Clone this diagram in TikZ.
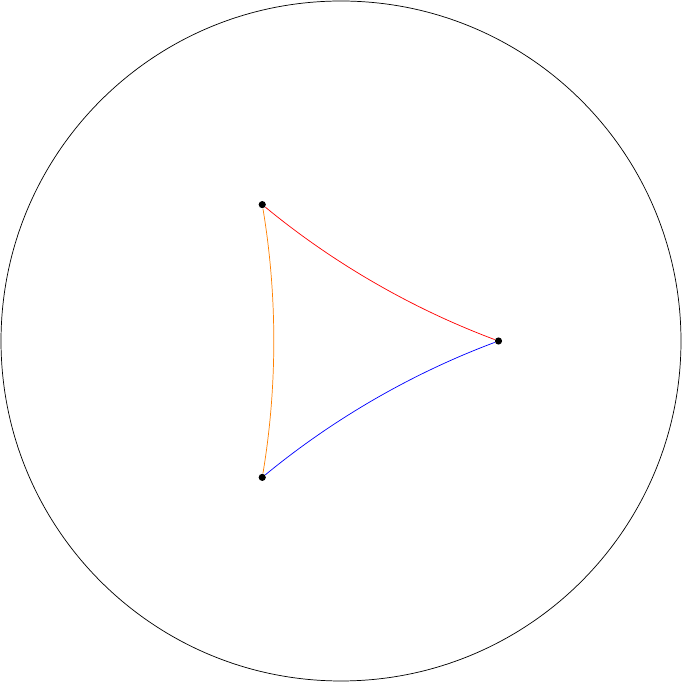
\documentclass[tikz,border=0pt]{standalone}
\usepackage{xcolor}
\usepackage{tikz}
\usetikzlibrary{calc}

\begin{document}
\begin{tikzpicture}[
    vertex/.style={circle, fill=black, inner sep=0pt, minimum size=3pt},
    geodesic/.style={line width=0.3pt, looseness=0.85}
]
\useasboundingbox (-5.015,-5.015) rectangle (5.015,5.015);

% boundary of the disk
\draw[line width=0.3pt] (0,0) circle (5cm);

\node[vertex] (a) at (120:2.316) {};
\node[vertex] (b) at (0:2.316) {};
\node[vertex] (c) at (240:2.316) {};

\draw[geodesic, red] (a) to[bend right=9.5] (b);
\draw[geodesic, blue] (b) to[bend right=9.5] (c);
\draw[geodesic, orange] (c) to[bend right=9.5] (a);

\end{tikzpicture}
\end{document}
